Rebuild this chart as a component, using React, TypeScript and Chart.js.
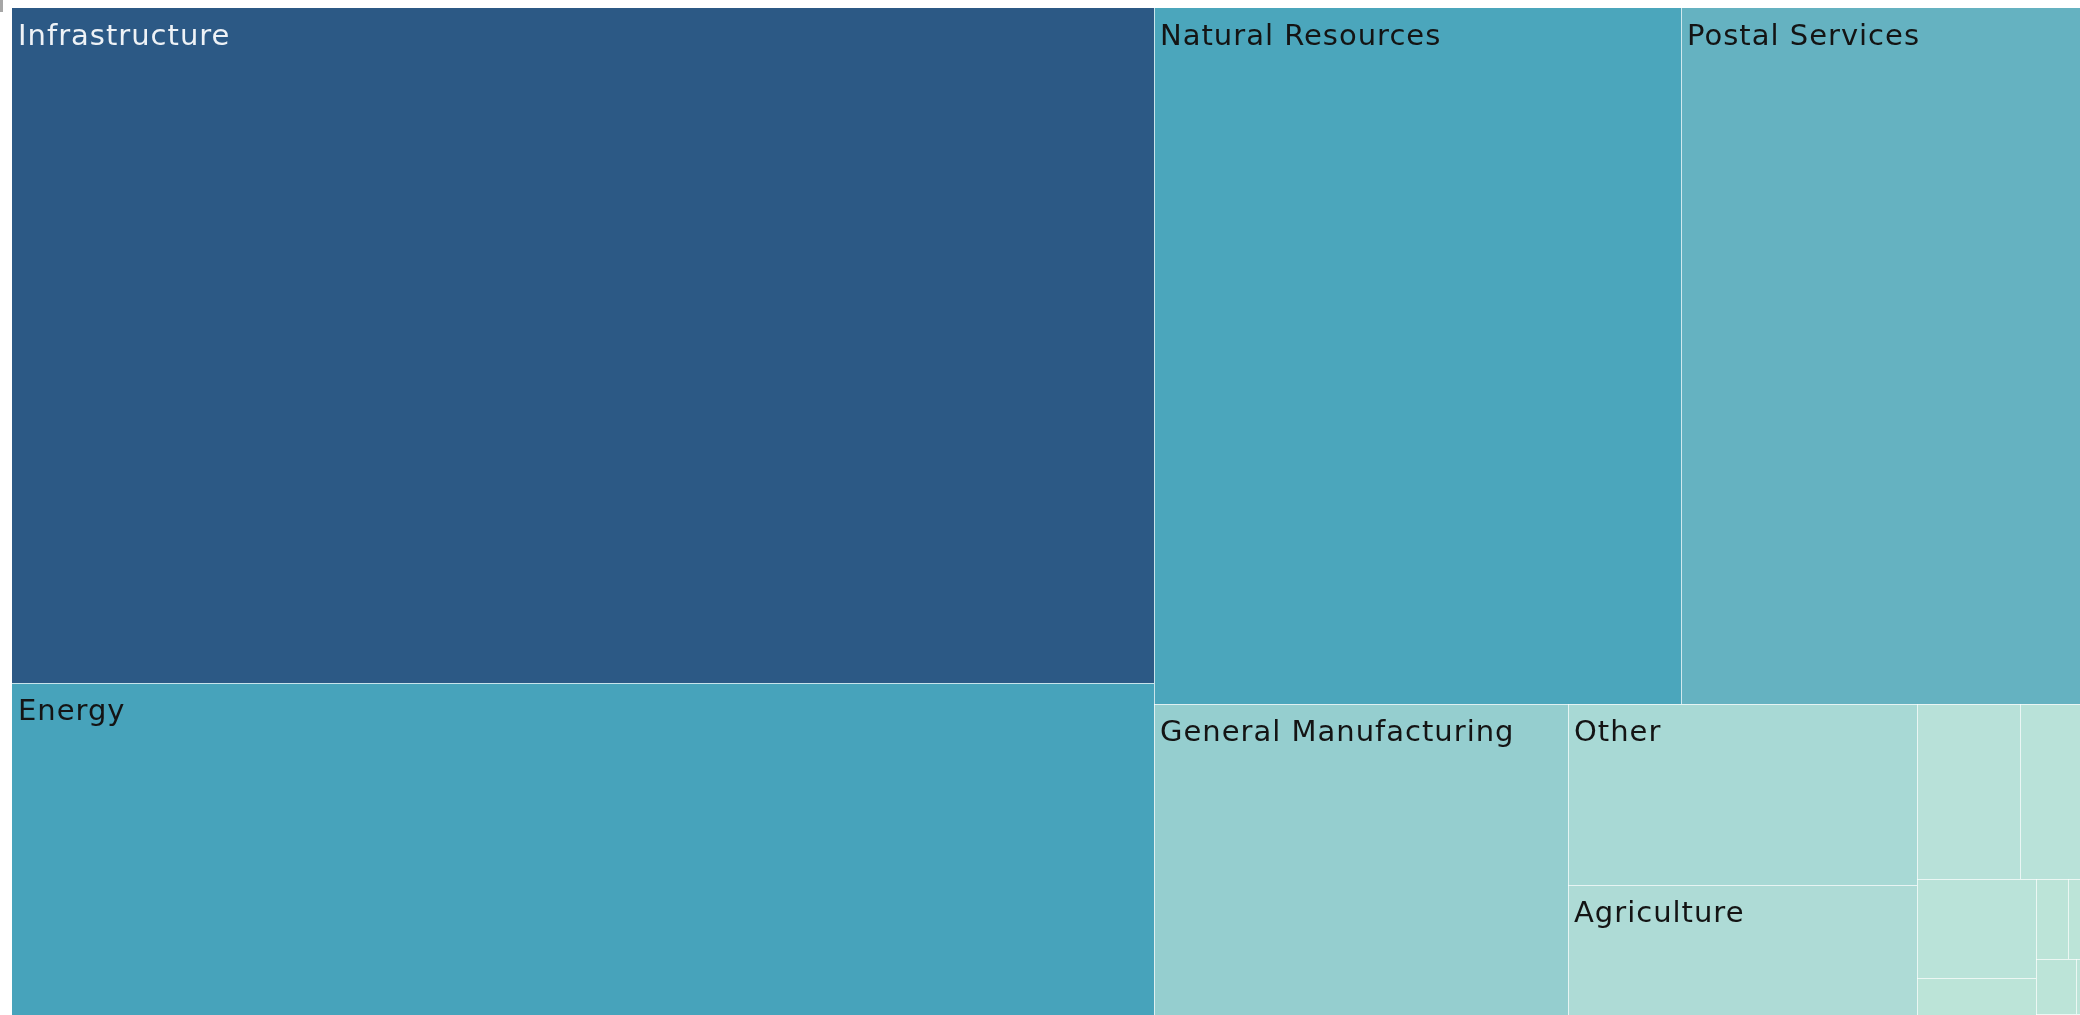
import React, { useEffect, useRef } from "react";
import { Chart, registerables } from "chart.js";

Chart.register(...registerables);

// Sector categories (treemap cells), largest first
const CATEGORIES: string[] = [
  "Infrastructure",
  "Energy",
  "Natural Resources",
  "Postal Services",
  "General Manufacturing",
  "Other",
  "Agriculture",
  "Telecommunications",
  "Transportation",
  "Water & Sanitation",
  "Waste Management",
  "Financial Services",
  "Tourism & Recreation",
  "Information Technology",
  "Education Facilities",
  "Health Facilities",
  "Housing Programs",
  "Fisheries",
];

// Size measure for each category
const VALUES: number[] = [
  771.4, 416.3, 366.8, 291.6, 142.4, 63.2, 56.9, 18.0, 14.0, 11.8, 8.3, 2.56,
  2.56, 2.2, 1.32, 1.0, 0.8, 0.38,
];

// How many consecutive cells go into each squarified strip
const ROW_SIZES: number[] = [2, 2, 1, 2, 2, 2, 2, 2, 3];

// Fill colour for each cell (Blue-Teal sequential)
const COLORS: string[] = [
  "#2c5985",
  "#47a3bb",
  "#4ba6bc",
  "#65b2c1",
  "#95cecf",
  "#a8d9d5",
  "#aedbd6",
  "#b8e1d9",
  "#b9e2d9",
  "#bae3d9",
  "#bce4d8",
  "#bce4d8",
  "#bce4d8",
  "#bce4d8",
  "#bce4d8",
  "#bce4d8",
  "#bce4d8",
  "#bce4d8",
];

const LABEL_COLORS: string[] = CATEGORIES.map((_, i) => (i === 0 ? "#eef2f6" : "#141414"));

type Cell = { x0: number; y0: number; x1: number; y1: number; i: number };

// strip layout in pixel-proportioned space, returned in normalised data units (0..1)
function layout(W: number, H: number): Cell[] {
  const total = VALUES.reduce((a, b) => a + b, 0);
  const areas = VALUES.map((v) => (v / total) * W * H);
  let rx = 0,
    ry = 0,
    rw = W,
    rh = H;
  const cells: Cell[] = [];
  let idx = 0;
  for (const n of ROW_SIZES) {
    const items = areas.slice(idx, idx + n);
    const s = items.reduce((a, b) => a + b, 0);
    if (rw >= rh) {
      const cw = s / rh;
      let yy = ry;
      items.forEach((a, k) => {
        const h = a / cw;
        cells.push({ x0: rx / W, y0: yy / H, x1: (rx + cw) / W, y1: (yy + h) / H, i: idx + k });
        yy += h;
      });
      rx += cw;
      rw -= cw;
    } else {
      const ch = s / rw;
      let xx = rx;
      items.forEach((a, k) => {
        const w = a / ch;
        cells.push({ x0: xx / W, y0: ry / H, x1: (xx + w) / W, y1: (ry + ch) / H, i: idx + k });
        xx += w;
      });
      ry += ch;
      rh -= ch;
    }
    idx += n;
  }
  return cells;
}

const treemapPlugin = {
  id: "treemapCells",
  afterDraw(chart: any) {
    const { ctx, chartArea, scales } = chart;
    const xs = scales.x;
    const ys = scales.y;
    const W = chartArea.right - chartArea.left;
    const H = chartArea.bottom - chartArea.top;
    const cells = layout(W, H);
    ctx.save();
    const rects = cells.map((c) => {
      const x0 = Math.round(xs.getPixelForValue(c.x0));
      const x1 = Math.round(xs.getPixelForValue(c.x1));
      const y0 = Math.round(ys.getPixelForValue(c.y0));
      const y1 = Math.round(ys.getPixelForValue(c.y1));
      return { x0, x1, y0, y1, i: c.i };
    });
    rects.forEach((r) => {
      ctx.fillStyle = COLORS[r.i];
      ctx.fillRect(r.x0, r.y0, r.x1 - r.x0, r.y1 - r.y0);
    });
    ctx.fillStyle = "rgba(255,255,255,0.7)";
    rects.forEach((r) => {
      if (r.y0 > Math.round(chartArea.top)) ctx.fillRect(r.x0, r.y0, r.x1 - r.x0, 1);
      if (r.x0 > Math.round(chartArea.left)) ctx.fillRect(r.x0, r.y0, 1, r.y1 - r.y0);
    });
    ctx.font = "29px 'DejaVu Sans'";
    (ctx as any).letterSpacing = "1px";
    ctx.textBaseline = "alphabetic";
    ctx.textAlign = "left";
    rects.forEach((r) => {
      const label = CATEGORIES[r.i];
      const tw = ctx.measureText(label).width;
      if (tw + 14 <= r.x1 - r.x0 && r.y1 - r.y0 >= 48) {
        ctx.fillStyle = LABEL_COLORS[r.i];
        ctx.fillText(label, r.x0 + 6, r.y0 + 37);
      }
    });
    ctx.restore();
  },
};

export default function App() {
  const ref = useRef<HTMLCanvasElement | null>(null);
  useEffect(() => {
    if (!ref.current) return;
    const chart = new Chart(ref.current, {
      type: "scatter",
      data: { datasets: [{ data: [] }] },
      options: {
        animation: false,
        responsive: false,
        devicePixelRatio: 1,
        layout: { padding: { left: 4, top: 0, right: 0, bottom: 0 } },
        plugins: { legend: { display: false }, tooltip: { enabled: false } },
        scales: {
          x: { type: "linear", min: 0, max: 1, display: false },
          y: { type: "linear", min: 0, max: 1, reverse: true, display: false },
        },
      },
      plugins: [treemapPlugin],
    });
    return () => chart.destroy();
  }, []);
  return (
    <div
      style={{
        position: "fixed",
        left: 0,
        top: 0,
        width: "100vw",
        height: "100vh",
        overflow: "hidden",
        background: "#fff",
      }}
    >
      <div style={{ position: "absolute", left: 0, top: 0, width: 3, height: 12, background: "#a6a6a6" }} />
      <canvas
        ref={ref}
        width={2092}
        height={1040}
        style={{ position: "absolute", left: 8, top: 8, width: 2092, height: 1040 }}
      />
    </div>
  );
}
